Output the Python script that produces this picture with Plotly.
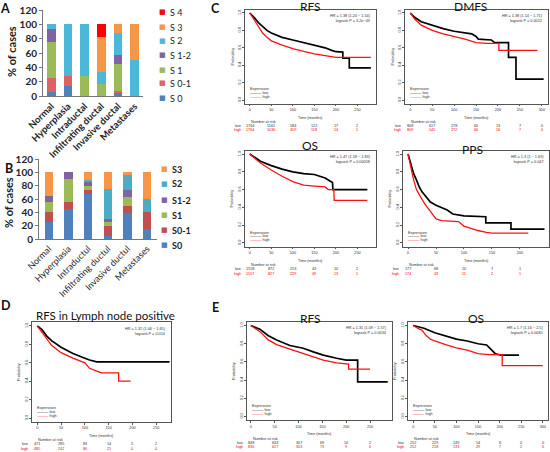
import plotly.graph_objects as go

W, H = 550, 452

# ---------------- DATA ----------------
# Panel A (stacked % of cases)
cats_A = ["Normal", "Hyperplasia", "Intraductal", "Infiltrating ductal", "Invasive ductal", "Metastases"]
A_S0 = [6, 14, 0, 0, 4, 0]
A_S01 = [19, 14, 0, 0, 3, 0]
A_S1 = [50, 0, 28, 17, 37, 0]
A_S12 = [19, 0, 0, 0, 13, 0]
A_S2 = [6, 72, 72, 17, 31, 50]
A_S3 = [0, 0, 0, 48, 12, 50]
A_S4 = [0, 0, 0, 18, 0, 0]
A_names = ["S 0", "S 0-1", "S 1", "S 1-2", "S 2", "S 3", "S 4"]

# Panel B
cats_B = ["Normal", "Hyperplasia", "Intraductul", "Infiltrating ductul", "Invasive ductul", "Metastases"]
B_S0 = [25, 45, 67, 5, 39, 15]
B_S01 = [15, 10, 7, 15, 11, 25]
B_S1 = [15, 35, 6, 5, 13, 0]
B_S12 = [10, 10, 6, 5, 10, 0]
B_S2 = [0, 0, 2, 45, 23, 20]
B_S3 = [35, 0, 12, 25, 4, 40]
B_names = ["S0", "S0-1", "S1", "S1-2", "S2", "S3"]

# Kaplan-Meier curves (time in months, survival probability)
C_RFS_low_t = [0, 5, 10, 20, 30, 40, 50, 75, 100, 125, 150, 175, 190, 200, 216, 216, 231, 231, 281]
C_RFS_low_s = [1, 0.98, 0.95, 0.89, 0.84, 0.80, 0.77, 0.72, 0.69, 0.66, 0.63, 0.60, 0.57, 0.555, 0.55, 0.48, 0.48, 0.37, 0.37]
C_RFS_high_t = [0, 5, 10, 20, 30, 40, 50, 75, 100, 125, 150, 175, 190, 200, 281]
C_RFS_high_s = [1, 0.96, 0.92, 0.84, 0.77, 0.72, 0.68, 0.63, 0.59, 0.56, 0.53, 0.51, 0.495, 0.49, 0.49]

C_DMFS_low_t = [0, 10, 25, 50, 75, 100, 125, 140, 150, 155, 185, 192, 224, 224, 241, 241, 304]
C_DMFS_low_s = [1, 0.95, 0.90, 0.86, 0.82, 0.79, 0.775, 0.76, 0.73, 0.70, 0.69, 0.66, 0.66, 0.49, 0.49, 0.24, 0.24]
C_DMFS_high_t = [0, 10, 25, 50, 75, 100, 125, 150, 175, 202, 202, 290]
C_DMFS_high_s = [1, 0.93, 0.86, 0.80, 0.76, 0.73, 0.70, 0.66, 0.65, 0.65, 0.57, 0.57]

C_OS_low_t = [0, 10, 25, 50, 75, 100, 125, 150, 175, 185, 192, 193, 273]
C_OS_low_s = [1, 0.97, 0.92, 0.87, 0.83, 0.80, 0.78, 0.77, 0.73, 0.70, 0.68, 0.60, 0.60]
C_OS_high_t = [0, 10, 25, 50, 75, 100, 125, 150, 175, 182, 195, 196, 273]
C_OS_high_s = [1, 0.96, 0.90, 0.82, 0.75, 0.69, 0.65, 0.64, 0.63, 0.60, 0.60, 0.48, 0.48]

C_PPS_low_t = [0, 5, 10, 15, 20, 25, 30, 40, 50, 60, 70, 80, 100, 139, 139, 184, 184, 244]
C_PPS_low_s = [1, 0.88, 0.78, 0.71, 0.63, 0.575, 0.54, 0.46, 0.425, 0.40, 0.37, 0.325, 0.305, 0.295, 0.226, 0.226, 0.155, 0.155]
C_PPS_high_t = [0, 5, 10, 15, 20, 25, 30, 40, 50, 60, 80, 90, 100, 115, 125, 140, 150, 215]
C_PPS_high_s = [1, 0.85, 0.71, 0.60, 0.54, 0.49, 0.44, 0.35, 0.27, 0.25, 0.245, 0.24, 0.19, 0.16, 0.14, 0.12, 0.11, 0.11]

D_low_t = [0, 10, 20, 30, 50, 75, 100, 110, 125, 278]
D_low_s = [1, 0.96, 0.89, 0.84, 0.77, 0.70, 0.65, 0.63, 0.61, 0.61]
D_high_t = [0, 10, 20, 30, 50, 75, 100, 110, 125, 135, 171, 171, 196]
D_high_s = [1, 0.93, 0.85, 0.79, 0.71, 0.65, 0.60, 0.54, 0.51, 0.49, 0.49, 0.40, 0.40]

E_RFS_low_t = [0, 19, 36, 54, 82, 110, 131, 152, 180, 200, 224, 224, 287]
E_RFS_low_s = [1, 0.96, 0.89, 0.84, 0.78, 0.75, 0.71, 0.675, 0.64, 0.62, 0.62, 0.38, 0.38]
E_RFS_high_t = [0, 20, 36, 54, 82, 110, 131, 152, 180, 200, 205, 205, 250]
E_RFS_high_s = [1, 0.93, 0.845, 0.79, 0.74, 0.69, 0.66, 0.62, 0.59, 0.575, 0.575, 0.52, 0.52]

E_OS_low_t = [0, 10, 25, 50, 75, 100, 125, 150, 170, 180, 190, 203, 245]
E_OS_low_s = [1, 0.99, 0.97, 0.92, 0.885, 0.85, 0.83, 0.80, 0.786, 0.74, 0.69, 0.675, 0.675]
E_OS_high_t = [0, 10, 20, 30, 40, 50, 75, 100, 125, 150, 175, 206, 206, 300]
E_OS_high_s = [1, 0.97, 0.95, 0.89, 0.85, 0.83, 0.79, 0.755, 0.73, 0.69, 0.68, 0.68, 0.56, 0.56]

# Number-at-risk tables
C_RFS_nar = (["1764", "1161", "584", "122", "17", "2"], ["1764", "1030", "459", "118", "14", "1"])
C_DMFS_nar = (["808", "617", "278", "60", "13", "7", "0"], ["809", "545", "272", "66", "16", "7", "0"])
C_OS_nar = (["1558", "872", "253", "43", "10", "2"], ["1557", "827", "229", "49", "13", "1"])
C_PPS_nar = (["177", "68", "20", "7", "1"], ["174", "43", "11", "2", "1"])
D_nar = (["471", "285", "83", "14", "5", "2"], ["485", "242", "80", "21", "0", "0"])
E_RFS_nar = (["848", "633", "307", "69", "10", "2"], ["830", "617", "303", "73", "9", "0"])
E_OS_nar = (["252", "229", "149", "54", "6", "0", "0"], ["252", "218", "133", "29", "7", "2", "0"])

# ---------------- helpers ----------------
def dx(a, b):
    return [a / W, b / W]


def dy(a, b):
    return [1 - b / H, 1 - a / H]


fig = go.Figure()
ann = []
layout = {}


def note(x, y, text, font, xanchor="center", yanchor="middle", xref="paper", **kw):
    xv = x / W if xref == "paper" else x
    ann.append(dict(x=xv, y=1 - y / H, xref=xref, yref="paper", text=text, showarrow=False,
                    xanchor=xanchor, yanchor=yanchor, font=font, **kw))


BOLD = dict(family="Lato", size=10, color="#222", weight="bold")

# ---------------- Panel A ----------------
A_series = [A_S0, A_S01, A_S1, A_S12, A_S2, A_S3, A_S4]
A_colors = ["#4F81BD", "#DE6262", "#9BBB59", "#8064A2", "#4BB8DA", "#F79646", "#FF0000"]
for nm, vals, col in zip(A_names, A_series, A_colors):
    fig.add_trace(go.Bar(x=cats_A, y=vals, name=nm, marker=dict(color=col, line=dict(width=0)),
                         width=0.52, xaxis="x", yaxis="y"))
layout["xaxis"] = dict(domain=dx(43, 143), anchor="y", showline=True, linecolor="#777", linewidth=1,
                       tickangle=-45, tickfont=dict(family="Lato", size=9.5, color="#222", weight="bold"),
                       ticks="", showgrid=False, automargin=False)
layout["yaxis"] = dict(domain=dy(10, 96), anchor="x", range=[0, 120], dtick=20, showline=True,
                       linecolor="#777", linewidth=1, ticks="outside", ticklen=3, tickcolor="#777",
                       tickfont=BOLD, showgrid=False, zeroline=False, automargin=False)
note(12, 52, "% of cases", dict(family="Lato", size=11, color="#222", weight="bold"), textangle=-90)
for nm, col, yy in zip(A_names[::-1], A_colors[::-1], [12, 27, 41, 55, 70, 83, 98]):
    note(162.5, yy, "■", dict(family="DejaVu Sans", size=7, color=col))
    note(168, yy, nm, dict(family="Lato", size=9, color="#222"), xanchor="left")

# ---------------- Panel B ----------------
B_series = [B_S0, B_S01, B_S1, B_S12, B_S2, B_S3]
B_colors = ["#4F81BD", "#C0504D", "#9BBB59", "#8064A2", "#4BACC6", "#F79646"]
for nm, vals, col in zip(B_names, B_series, B_colors):
    fig.add_trace(go.Bar(x=cats_B, y=vals, name=nm, marker=dict(color=col, line=dict(width=0)),
                         width=0.44, xaxis="x2", yaxis="y2"))
layout["xaxis2"] = dict(domain=dx(39, 157), anchor="y2", showline=True, linecolor="#777", linewidth=1,
                        tickangle=-45, tickfont=dict(family="Lato", size=9, color="#222"),
                        ticks="", showgrid=False, automargin=False)
layout["yaxis2"] = dict(domain=dy(159, 239), anchor="x2", range=[0, 120], dtick=20, showline=True,
                        linecolor="#777", linewidth=1, ticks="outside", ticklen=3, tickcolor="#777",
                        tickfont=BOLD, showgrid=False, zeroline=False, automargin=False)
note(8, 203, "% of cases", dict(family="Lato", size=11, color="#222", weight="bold"), textangle=-90)
for nm, col, yy in zip(B_names[::-1], B_colors[::-1], [169, 184, 200, 215, 230, 245]):
    note(164.5, yy, "■", dict(family="DejaVu Sans", size=7, color=col))
    note(170, yy, nm, dict(family="Lato", size=9, color="#222", weight="bold"), xanchor="left")

# ---------------- KM panels ----------------
SM = dict(family="Liberation Sans", size=3.8, color="#333")
SMR = dict(SM, color="red")


def km(ax, box, xr, xt, lt, ls, ht, hs, title, tpos, tsize, hr, nar):
    x0, y0, x1, y1 = box
    xa, ya = "x%d" % ax, "y%d" % ax
    fig.add_trace(go.Scatter(x=lt, y=ls, mode="lines", line=dict(color="black", width=1.7),
                             xaxis=xa, yaxis=ya, showlegend=False))
    fig.add_trace(go.Scatter(x=ht, y=hs, mode="lines", line=dict(color="#FF1010", width=1.3),
                             xaxis=xa, yaxis=ya, showlegend=False))
    layout["xaxis%d" % ax] = dict(domain=dx(x0, x1), anchor=ya, range=xr, tickvals=xt, showline=True,
                                  mirror=True, linecolor="#555", linewidth=0.7, ticks="outside",
                                  ticklen=2, tickcolor="#555", tickfont=SM, showgrid=False,
                                  zeroline=False, automargin=False)
    yt = [0, 0.2, 0.4, 0.6, 0.8, 1.0]
    layout["yaxis%d" % ax] = dict(domain=dy(y0, y1), anchor=xa, range=[-0.04, 1.04], tickvals=yt,
                                  ticktext=["%.1f" % v for v in yt], tickangle=-90, showline=True,
                                  mirror=True, linecolor="#555", linewidth=0.7, ticks="outside",
                                  ticklen=2, tickcolor="#555", tickfont=SM, showgrid=False,
                                  zeroline=False, automargin=False)
    note(tpos[0], tpos[1], title, dict(family="Lato", size=tsize, color="#111"))
    note(x1 - 3, y0 + 2.5, hr[0] + "<br>" + hr[1], SM, xanchor="right", yanchor="top", align="right")
    note(x0 - 13, (y0 + y1) / 2, "Probability", SM, textangle=-90)
    note((x0 + x1) / 2, y1 + 14, "Time (months)", SM)
    note(x0 + 4, y1 + 18.5, "Number at risk", SM, xanchor="left")
    note(x0 + 3, y1 - 14, "Expression", SM, xanchor="left")
    note(x0 + 3, y1 - 10, "<span style='color:black'>———</span> low", SM, xanchor="left")
    note(x0 + 3, y1 - 6, "<span style='color:red'>———</span> high", SM, xanchor="left")
    note(x0 - 2, y1 + 22.5, "low", SM, xanchor="right")
    note(x0 - 2, y1 + 27, "high", SMR, xanchor="right")
    for t, a, b in zip(xt, nar[0], nar[1]):
        note(t, y1 + 22.5, a, SM, xref=xa)
        note(t, y1 + 27, b, SMR, xref=xa)


t250 = [0, 50, 100, 150, 200, 250]
t300 = [0, 50, 100, 150, 200, 250, 300]
t200 = [0, 50, 100, 150, 200]

km(3, (245, 9.5, 376, 103.5), [-11, 293], t250, C_RFS_low_t, C_RFS_low_s, C_RFS_high_t, C_RFS_high_s,
   "RFS", (310, 6), 12, ("HR = 1.38 (1.24 − 1.54)", "logrank P = 3.2e−09"), C_RFS_nar)
km(4, (405, 9.5, 548, 103.5), [-12, 314], t300, C_DMFS_low_t, C_DMFS_low_s, C_DMFS_high_t, C_DMFS_high_s,
   "DMFS", (470, 6), 12, ("HR = 1.38 (1.14 − 1.71)", "logrank P = 0.0012"), C_DMFS_nar)
km(5, (245, 150.5, 376, 246.5), [-11, 293], t250, C_OS_low_t, C_OS_low_s, C_OS_high_t, C_OS_high_s,
   "OS", (310, 146), 12, ("HR = 1.47 (1.18 − 1.83)", "logrank P = 0.00058"), C_OS_nar)
km(6, (403, 150.5, 549, 246.5), [-9, 252], t200, C_PPS_low_t, C_PPS_low_s, C_PPS_high_t, C_PPS_high_s,
   "PPS", (472, 150), 12, ("HR = 1.3 (1 − 1.69)", "logrank P = 0.047"), C_PPS_nar)
km(7, (32, 322.3, 171, 421.7), [-11, 281], t250, D_low_t, D_low_s, D_high_t, D_high_s,
   "RFS in Lymph node positive", (105, 315), 11.5, ("HR = 1.32 (1.06 − 1.65)", "logrank P = 0.014"), D_nar)
km(8, (247, 321.9, 392, 420.1), [-8, 296], t250, E_RFS_low_t, E_RFS_low_s, E_RFS_high_t, E_RFS_high_s,
   "RFS", (310, 318), 12, ("HR = 1.31 (1.09 − 1.57)", "logrank P = 0.0034"), E_RFS_nar)
km(9, (408, 321.9, 548, 420.1), [-12, 312], t300, E_OS_low_t, E_OS_low_s, E_OS_high_t, E_OS_high_s,
   "OS", (476, 318), 12, ("HR = 1.7 (1.16 − 2.5)", "logrank P = 0.0065"), E_OS_nar)

# Panel letters
for letter, xx, yy in [("A", 5, 8), ("B", 9, 168), ("C", 215, 9), ("D", 6, 305), ("E", 215, 307)]:
    note(xx, yy, letter, dict(family="Lato", size=12.5, color="#111", weight="bold"))

fig.update_layout(**layout)
fig.update_layout(width=W, height=H, margin=dict(l=0, r=0, t=0, b=0, autoexpand=False), barmode="stack",
                  showlegend=False, plot_bgcolor="white", paper_bgcolor="white", annotations=ann)
fig.write_html("out.html", config={"displayModeBar": False},
               post_script="document.body.style.margin='0';document.body.style.padding='0';"
                           "document.documentElement.style.overflow='hidden';")
